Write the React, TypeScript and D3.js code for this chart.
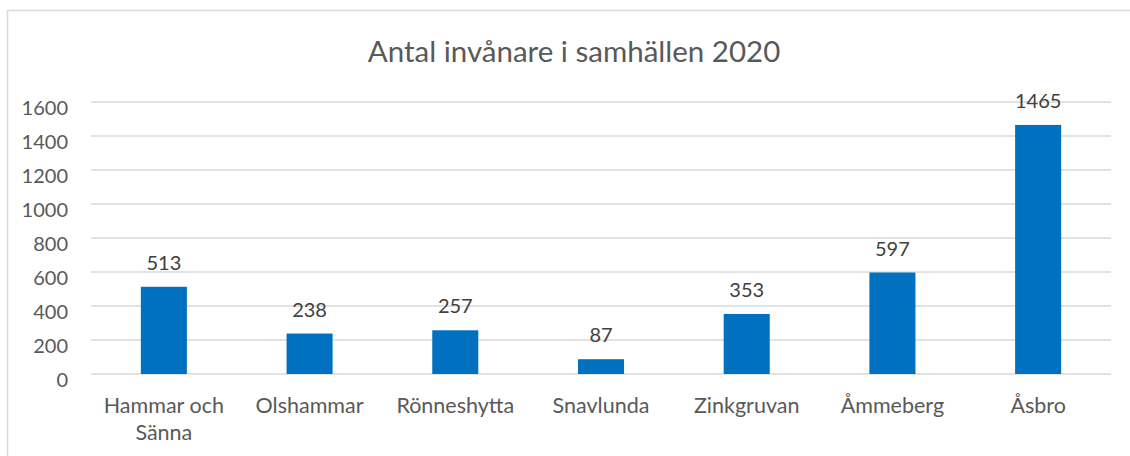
import React from "react";
import * as d3 from "d3";

const categories: string[][] = [
  ["Hammar och", "Sänna"],
  ["Olshammar"],
  ["Rönneshytta"],
  ["Snavlunda"],
  ["Zinkgruvan"],
  ["Åmmeberg"],
  ["Åsbro"],
];
const values: number[] = [513, 238, 257, 87, 353, 597, 1465];
const yTicks: number[] = [0, 200, 400, 600, 800, 1000, 1200, 1400, 1600];
const title = "Antal invånare i samhällen 2020";

const W = 1130;
const H = 456;
const FONT = "Lato, 'Open Sans', sans-serif";

export default function App() {
  const left = 91;
  const right = 1111;
  const x = d3
    .scaleBand<number>()
    .domain(d3.range(values.length))
    .range([left, right])
    .paddingInner(0.684)
    .paddingOuter(0.342);
  const y = d3.scaleLinear().domain([0, 1600]).range([374, 102]);

  return (
    <svg
      width={W}
      height={H}
      style={{ position: "absolute", left: 0, top: 0, background: "#fff" }}
    >
      <rect x={7.5} y={10.5} width={W} height={H} fill="#fff" stroke="#d9d9d9" strokeWidth={1.5} />
      <text
        x={574}
        y={62}
        textAnchor="middle"
        fontFamily={FONT}
        fontSize={29.5}
        fill="#595959"
      >
        {title}
      </text>
      {yTicks.map((t) => (
        <g key={t}>
          <line x1={left} x2={right} y1={y(t)} y2={y(t)} stroke="#d9d9d9" strokeWidth={1.5} />
          <text
            x={68}
            y={y(t) + 12.5}
            textAnchor="end"
            fontFamily={FONT}
            fontSize={20}
            fill="#595959"
          >
            {t}
          </text>
        </g>
      ))}
      {values.map((v, i) => {
        const bx = x(i) as number;
        const bw = x.bandwidth();
        const cx = bx + bw / 2;
        return (
          <g key={i}>
            <rect x={bx} y={y(v)} width={bw} height={y(0) - y(v)} fill="#0070C0" />
            <text
              x={cx}
              y={y(v) - 17}
              textAnchor="middle"
              fontFamily={FONT}
              fontSize={20}
              fill="#404040"
            >
              {v}
            </text>
            {categories[i].map((line, j) => (
              <text
                key={j}
                x={cx}
                y={413 + j * 27}
                textAnchor="middle"
                fontFamily={FONT}
                fontSize={21.5}
                fill="#595959"
              >
                {line}
              </text>
            ))}
          </g>
        );
      })}
    </svg>
  );
}
